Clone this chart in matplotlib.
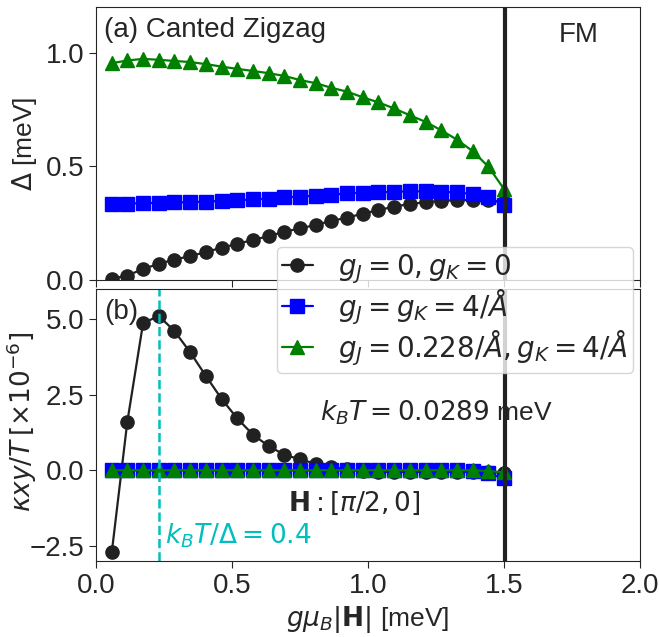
import numpy as np
import matplotlib
matplotlib.use("Agg")
import matplotlib.pyplot as plt
import seaborn as sns

# field values gmu_B|H| (meV)
h = [0.058, 0.115, 0.173, 0.231, 0.288, 0.346, 0.404, 0.462, 0.519, 0.577,
     0.635, 0.692, 0.750, 0.808, 0.865, 0.923, 0.981, 1.038, 1.096, 1.154,
     1.212, 1.269, 1.327, 1.385, 1.442, 1.500]

# (a) gap Delta [meV]
gap_00 = [0.006, 0.019, 0.049, 0.071, 0.090, 0.105, 0.123, 0.142, 0.159, 0.176,
          0.193, 0.212, 0.227, 0.242, 0.260, 0.274, 0.292, 0.307, 0.323, 0.334,
          0.342, 0.348, 0.351, 0.352, 0.351, 0.341]
gap_44 = [0.336, 0.336, 0.338, 0.339, 0.341, 0.342, 0.345, 0.348, 0.351, 0.354,
          0.358, 0.363, 0.367, 0.370, 0.375, 0.381, 0.384, 0.385, 0.388, 0.390,
          0.390, 0.388, 0.385, 0.378, 0.363, 0.331]
gap_0228 = [0.953, 0.965, 0.972, 0.968, 0.963, 0.958, 0.949, 0.938, 0.928, 0.919,
            0.909, 0.897, 0.879, 0.865, 0.845, 0.828, 0.803, 0.781, 0.754, 0.724,
            0.695, 0.658, 0.617, 0.566, 0.499, 0.400]

# (b) kappa_xy/T [x1e-6]
kxy_00 = [-2.71, 1.60, 4.87, 5.11, 4.61, 3.91, 3.12, 2.36, 1.72, 1.18,
          0.80, 0.52, 0.36, 0.22, 0.12, 0.03, -0.03, -0.05, -0.05, -0.05,
          -0.05, -0.05, -0.05, -0.05, -0.06, -0.08]
kxy_44 = [0.0, 0.0, 0.0, 0.0, 0.0, 0.0, 0.0, 0.0, 0.0, 0.0,
          0.0, 0.0, 0.0, 0.0, 0.0, 0.0, 0.0, 0.0, 0.0, 0.0,
          0.0, 0.0, 0.0, -0.02, -0.10, -0.27]
kxy_0228 = [0.0, 0.0, 0.0, 0.0, 0.0, 0.0, 0.0, 0.0, 0.0, 0.0,
            0.0, 0.0, 0.0, 0.0, 0.0, 0.0, 0.0, 0.0, 0.0, 0.0,
            0.0, 0.0, 0.0, 0.0, -0.02, -0.07]

labels = [r'$g_J=0, g_K=0$', r'$g_J=g_K=4/\AA$', r'$g_J=0.228/\AA, g_K=4/\AA$']
h_crit = 1.505
h_peak = 0.2308

sns.set_style("ticks")
plt.rcParams['font.family'] = 'sans-serif'
plt.rcParams['font.sans-serif'] = ['Liberation Sans', 'DejaVu Sans']
plt.rcParams['mathtext.fontset'] = 'dejavusans'
plt.rcParams['font.size'] = 20
plt.rcParams['xtick.major.size'] = 5
plt.rcParams['ytick.major.size'] = 5

fig = plt.figure(figsize=(6.59, 6.37), dpi=100)
ax1 = fig.add_axes([0.1457, 0.5604, 0.8255, 0.4286])
ax2 = fig.add_axes([0.1457, 0.1193, 0.8255, 0.4270])

style = dict(lw=1.6, ms=9.5)
ax1.plot(h, gap_00, '-o', color='0.13', **style)
ax1.plot(h, gap_44, '-s', color='blue', **style)
ax1.plot(h, gap_0228, '-^', color='green', **style)
ax1.axvline(h_crit, color='0.13', lw=3)
ax1.set_xlim(0, 2)
ax1.set_ylim(0, 1.2)
ax1.set_xticks([0, 0.5, 1.0, 1.5, 2.0])
ax1.set_xticklabels([])
ax1.set_yticks([0, 0.5, 1.0])
ax1.set_ylabel(r'$\Delta$ [meV]', fontsize=19)
ax1.yaxis.set_label_coords(-0.105, 0.5)
ax1.text(0.015, 0.965, '(a) Canted Zigzag', transform=ax1.transAxes, va='top', fontsize=20)
ax1.text(1.775, 1.075, 'FM', ha='center', va='center', fontsize=20)

l1, = ax2.plot(h, kxy_00, '-o', color='0.13', **style)
l2, = ax2.plot(h, kxy_44, '-s', color='blue', **style)
l3, = ax2.plot(h, kxy_0228, '-^', color='green', **style)
ax2.axvline(h_crit, color='0.13', lw=3)
ax2.axvline(h_peak, color='c', ls='--', lw=1.8)
ax2.set_xlim(0, 2)
ax2.set_ylim(-3, 6)
ax2.set_xticks([0, 0.5, 1.0, 1.5, 2.0])
ax2.set_yticks([-2.5, 0, 2.5, 5.0])
ax2.set_xlabel(r'$g\mu_B|\mathbf{H}|$ [meV]', fontsize=19)
ax2.set_ylabel(r'$\kappa xy/T\,[\times 10^{-6}]$', fontsize=19)
ax2.yaxis.set_label_coords(-0.105, 0.51)
ax2.text(0.015, 0.965, '(b)', transform=ax2.transAxes, va='top', fontsize=20)
ax2.text(0.822, 1.9, r'$k_BT = 0.0289$ meV', va='center', fontsize=19)
ax2.text(0.705, -1.1, r'$\mathbf{H}:[\pi/2, 0]$', va='center', fontsize=19)
ax2.text(0.253, -2.17, r'$k_BT/\Delta = 0.4$', va='center', color='c', fontsize=19)

fig.legend([l1, l2, l3], labels, loc='upper right', bbox_to_anchor=(0.961, 0.613),
           fontsize=20, handlelength=1.1, borderpad=0.2, labelspacing=0.05,
           handletextpad=0.9, borderaxespad=0)

fig.savefig('out.png', dpi=100)
